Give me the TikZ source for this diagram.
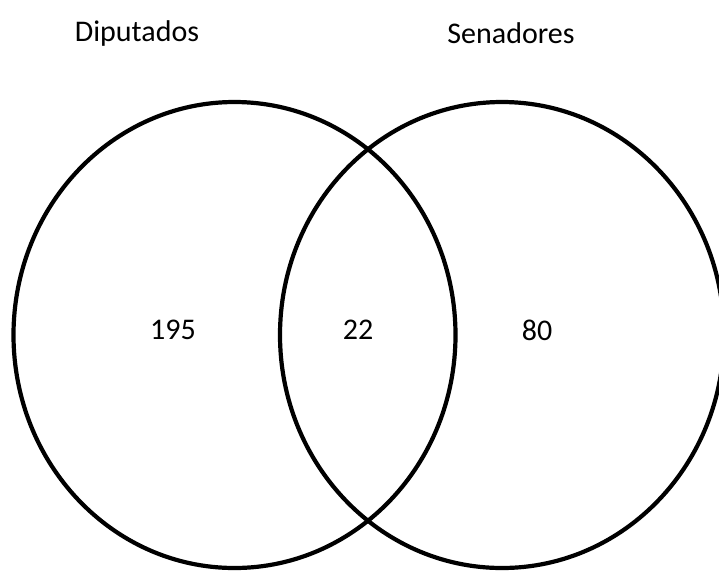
\documentclass[tikz,border=0pt]{standalone}
\usepackage{fontspec}
\setmainfont{Carlito}
\usepackage{tikz}
\usetikzlibrary{positioning}

\tikzset{
    setline/.style={line width=4.2pt, black},
    setlabel/.style={font=\fontsize{30}{35}\selectfont, inner sep=0pt}
}

\begin{document}
\begin{tikzpicture}[x=1pt,y=-1pt]
    \useasboundingbox (0,0) rectangle (719,571);

    % Sets
    \draw[setline] (234.5,335) ellipse [x radius=221, y radius=233];
    \draw[setline] (502,335) ellipse [x radius=222, y radius=233];

    % Set names
    \node[setlabel] (dip) at (137,33) {Diputados};
    \node[setlabel] (sen) at (511,33) {Senadores};

    % Counts
    \node[setlabel] (onlydip) at (173,330) {195};
    \node[setlabel] (both) at (358,330) {22};
    \node[setlabel] (onlysen) at (537,330) {80};
\end{tikzpicture}
\end{document}
